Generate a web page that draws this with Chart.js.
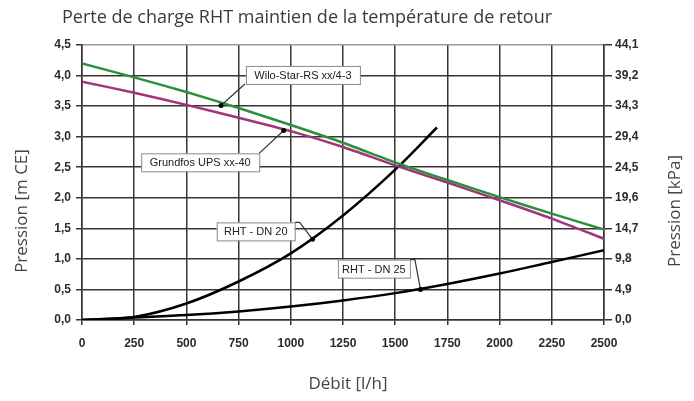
<!DOCTYPE html>
<html>
<head>
<meta charset="utf-8">
<script src="https://cdn.jsdelivr.net/npm/chart.js@4.4.1/dist/chart.umd.min.js"></script>
<style>
  html, body { margin: 0; padding: 0; background: #fff; }
  #wrap { width: 694px; height: 401px; }
</style>
</head>
<body>
<div id="wrap"><canvas id="perteChart" width="694" height="401"></canvas></div>
<script>
// debit (l/h) for each curve
const debitPompe = [0, 250, 500, 750, 1000, 1250, 1500, 1750, 2000, 2250, 2500];
const wiloStar = [4.20, 3.97, 3.73, 3.47, 3.19, 2.90, 2.58, 2.29, 2.01, 1.74, 1.48];
const grundfosUps = [3.90, 3.72, 3.52, 3.31, 3.09, 2.83, 2.53, 2.25, 1.96, 1.66, 1.33];

const debitDn20 = [0, 250, 500, 750, 1000, 1250, 1500, 1700];
const rhtDn20 = [0.0, 0.05, 0.27, 0.63, 1.09, 1.71, 2.46, 3.15];

const debitDn25 = [0, 250, 500, 750, 1000, 1250, 1500, 1750, 2000, 2250, 2500];
const rhtDn25 = [0.0, 0.04, 0.08, 0.14, 0.22, 0.32, 0.44, 0.59, 0.76, 0.95, 1.14];

const mceTicks = ["0,0", "0,5", "1,0", "1,5", "2,0", "2,5", "3,0", "3,5", "4,0", "4,5"];
const kpaTicks = ["0,0", "4,9", "9,8", "14,7", "19,6", "24,5", "29,4", "34,3", "39,2", "44,1"];

// callouts: dot on curve (data units), box centre (data units), leader anchor corner
const callouts = [
    { text: "Wilo-Star-RS xx/4-3", dot: [666, 3.51], box: [1058, 4.01], w: 114, corner: "bl" },
    { text: "Grundfos UPS xx-40", dot: [966, 3.10], box: [566, 2.58], w: 118, corner: "tr" },
    { text: "RHT - DN 20", dot: [1104, 1.32], box: [832, 1.45], w: 78, corner: "tr" },
    { text: "RHT - DN 25", dot: [1621, 0.50], box: [1398, 0.84], w: 72, corner: "tr" },
];

const toPoints = (xs, ys) => xs.map((x, i) => ({ x: x, y: ys[i] }));

const TICK_FONT = { family: "'Liberation Sans', Arial, sans-serif", size: 12, weight: "bold" };
const GRID = "#3b3333";

const textPlugin = {
    id: "textPlugin",
    afterDraw(chart) {
        const ctx = chart.ctx;
        const xs = chart.scales.x;
        const ys = chart.scales.y;
        ctx.save();

        // leaders, boxes and dots
        ctx.font = "11px 'Liberation Sans', Arial, sans-serif";
        callouts.forEach(c => {
            const dx = xs.getPixelForValue(c.dot[0]);
            const dy = ys.getPixelForValue(c.dot[1]);
            const bx = xs.getPixelForValue(c.box[0]);
            const by = ys.getPixelForValue(c.box[1]);
            const h = 18;
            const left = bx - c.w / 2, top = by - h / 2;
            let ax, ay;
            if (c.corner === "bl") { ax = left - 1; ay = top + h; }
            else { ax = left + c.w; ay = top; }

            ctx.strokeStyle = "#333";
            ctx.lineWidth = 1.2;
            ctx.beginPath();
            ctx.moveTo(ax, ay);
            if (c.corner === "tr" && c.text.startsWith("RHT")) {
                ctx.lineTo(ax + 5, ay);
            }
            ctx.lineTo(dx, dy);
            ctx.stroke();

            ctx.fillStyle = "#fff";
            ctx.fillRect(left, top, c.w, h);
            ctx.strokeStyle = "#8a8a8a";
            ctx.lineWidth = 1;
            ctx.strokeRect(left + 0.5, top + 0.5, c.w, h);
            ctx.fillStyle = "#222";
            ctx.textAlign = "center";
            ctx.textBaseline = "middle";
            ctx.fillText(c.text, bx, by + 1);

            ctx.fillStyle = "#000";
            ctx.beginPath();
            ctx.arc(dx, dy, 2.5, 0, Math.PI * 2);
            ctx.fill();
        });

        // titles
        ctx.fillStyle = "#3a3a3a";
        ctx.font = "18px 'Open Sans', sans-serif";
        ctx.textAlign = "left";
        ctx.textBaseline = "middle";
        ctx.fillText("Perte de charge RHT maintien de la température de retour", 62, 18);

        ctx.fillStyle = "#444";
        ctx.font = "17px 'Open Sans', sans-serif";
        ctx.textAlign = "center";
        ctx.fillText("Débit [l/h]", 348, 384);

        ctx.translate(22, 211);
        ctx.rotate(-Math.PI / 2);
        ctx.fillText("Pression [m CE]", 0, 0);
        ctx.restore();

        ctx.save();
        ctx.fillStyle = "#444";
        ctx.font = "17px 'Open Sans', sans-serif";
        ctx.textAlign = "center";
        ctx.textBaseline = "middle";
        ctx.translate(675, 211);
        ctx.rotate(-Math.PI / 2);
        ctx.fillText("Pression [kPa]", 0, 0);
        ctx.restore();
    }
};

const ctx = document.getElementById("perteChart").getContext("2d");
const perteChart = new Chart(ctx, {
    type: "line",
    data: {
        datasets: [
            {
                label: "Wilo-Star-RS xx/4-3",
                data: toPoints(debitPompe, wiloStar),
                borderColor: "#2b8f3d",
                borderWidth: 2.5,
                pointRadius: 0,
                tension: 0.2,
            },
            {
                label: "Grundfos UPS xx-40",
                data: toPoints(debitPompe, grundfosUps),
                borderColor: "#a3347a",
                borderWidth: 2.5,
                pointRadius: 0,
                tension: 0.2,
            },
            {
                label: "RHT - DN 20",
                data: toPoints(debitDn20, rhtDn20),
                borderColor: "#000",
                borderWidth: 2.5,
                pointRadius: 0,
                cubicInterpolationMode: "monotone",
            },
            {
                label: "RHT - DN 25",
                data: toPoints(debitDn25, rhtDn25),
                borderColor: "#000",
                borderWidth: 2.5,
                pointRadius: 0,
                cubicInterpolationMode: "monotone",
            },
        ],
    },
    options: {
        responsive: false,
        animation: false,
        events: [],
        layout: { padding: { top: 45, left: 0, right: 0, bottom: 0 } },
        plugins: {
            legend: { display: false },
            title: { display: false },
            tooltip: { enabled: false },
        },
        scales: {
            x: {
                type: "linear",
                min: 0,
                max: 2500,
                ticks: {
                    stepSize: 250,
                    color: "#2b2b2b",
                    font: TICK_FONT,
                    padding: 11,
                    maxRotation: 0,
                    callback: (v) => String(v),
                },
                grid: { color: GRID, lineWidth: 1.5, tickLength: 5, tickColor: GRID },
                border: { color: GRID, width: 1.5 },
                afterFit(scale) { scale.height = 81; },
            },
            y: {
                position: "left",
                min: 0,
                max: 4.5,
                ticks: {
                    stepSize: 0.5,
                    color: "#2b2b2b",
                    font: TICK_FONT,
                    padding: 5,
                    callback: (v, i) => mceTicks[i],
                },
                grid: {
                    color: (c) => (c.index === mceTicks.length - 1 ? "#9a9a9a" : GRID),
                    lineWidth: 1.5,
                    tickLength: 6,
                    tickColor: GRID,
                },
                border: { color: GRID, width: 1.5 },
                afterFit(scale) { scale.width = 82; },
            },
            y1: {
                position: "right",
                min: 0,
                max: 4.5,
                ticks: {
                    stepSize: 0.5,
                    color: "#2b2b2b",
                    font: TICK_FONT,
                    padding: 3,
                    callback: (v, i) => kpaTicks[i],
                },
                grid: { drawOnChartArea: false, tickLength: 8, tickColor: GRID, lineWidth: 1.5 },
                border: { color: GRID, width: 1.5 },
                afterFit(scale) { scale.width = 90; },
            },
        },
    },
    plugins: [textPlugin],
});
</script>
</body>
</html>
